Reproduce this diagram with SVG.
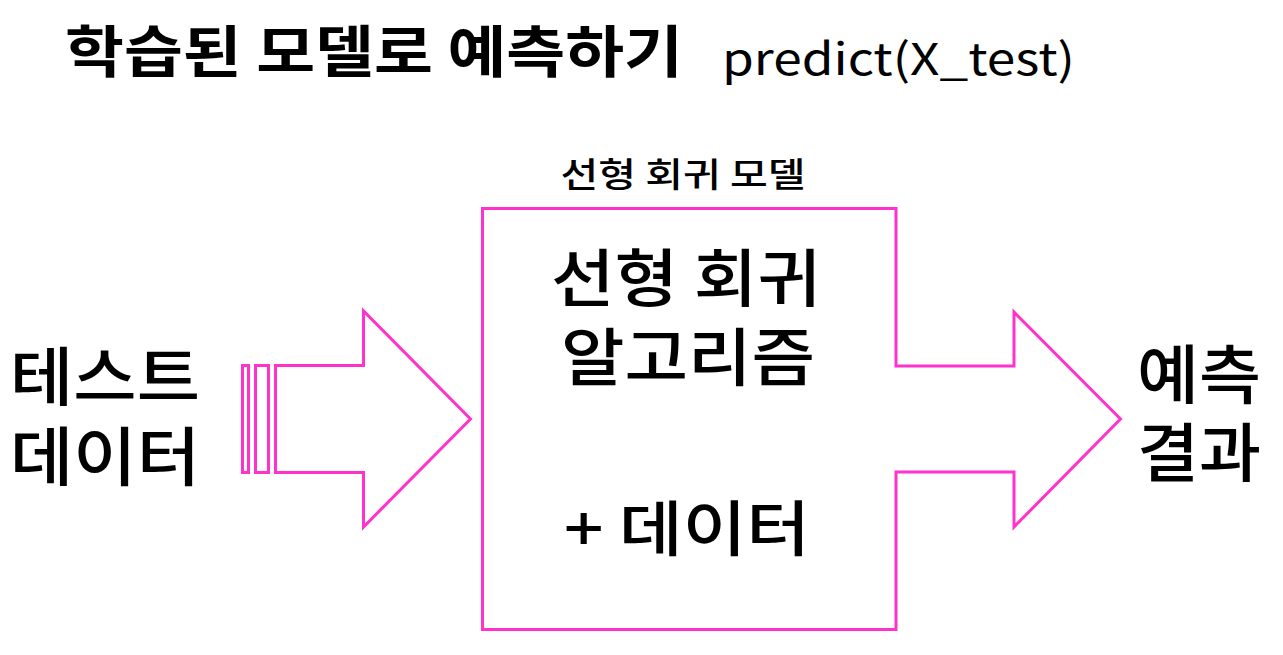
<svg xmlns="http://www.w3.org/2000/svg" width="1283" height="655" viewBox="0 0 1283 655">
<style>
.ln{fill:none;stroke:#FF33CC;stroke-width:3;stroke-linejoin:miter}
.t{font-family:"Noto Sans CJK KR","Noto Sans",sans-serif;fill:#000}
.m{text-anchor:middle}
</style>
<rect width="1283" height="655" fill="#fff"/>
<g id="title">
<text class="t" x="65" y="72" font-size="56" font-weight="bold" textLength="618" lengthAdjust="spacingAndGlyphs">학습된 모델로 예측하기</text>
<text class="t" x="722" y="75" font-size="44" textLength="353" lengthAdjust="spacingAndGlyphs">predict(X_test)</text>
</g>
<g id="connectors">
<rect class="ln" x="242.5" y="365.5" width="6" height="107"/>
<rect class="ln" x="255.5" y="365.5" width="13" height="107"/>
<polygon class="ln" points="275.5,365.5 363.5,365.5 363.5,311 470.5,419 363.5,527 363.5,472.5 275.5,472.5"/>
</g>
<g id="model">
<polygon class="ln" points="482.5,208.5 896,208.5 896,366 1014,366 1014,312 1120.5,419 1014,527 1014,472 896,472 896,629.5 482.5,629.5"/>
<text class="t m" x="683" y="187" font-size="34" font-weight="500" textLength="245" lengthAdjust="spacingAndGlyphs">선형 회귀 모델</text>
<text class="t m" x="686" y="301" font-size="63" font-weight="500" textLength="270" lengthAdjust="spacingAndGlyphs">선형 회귀</text>
<text class="t m" x="688" y="380" font-size="63" font-weight="500" textLength="254" lengthAdjust="spacingAndGlyphs">알고리즘</text>
<text class="t m" x="687" y="551" font-size="60" font-weight="500" textLength="246" lengthAdjust="spacingAndGlyphs">+ 데이터</text>
</g>
<g id="test-data">
<text class="t" x="10" y="400" font-size="64" font-weight="500" textLength="190" lengthAdjust="spacingAndGlyphs">테스트</text>
<text class="t" x="10" y="480" font-size="64" font-weight="500" textLength="190" lengthAdjust="spacingAndGlyphs">데이터</text>
</g>
<g id="result">
<text class="t" x="1137" y="398" font-size="64" font-weight="500" textLength="124" lengthAdjust="spacingAndGlyphs">예측</text>
<text class="t" x="1137" y="476" font-size="64" font-weight="500" textLength="124" lengthAdjust="spacingAndGlyphs">결과</text>
</g>
</svg>
